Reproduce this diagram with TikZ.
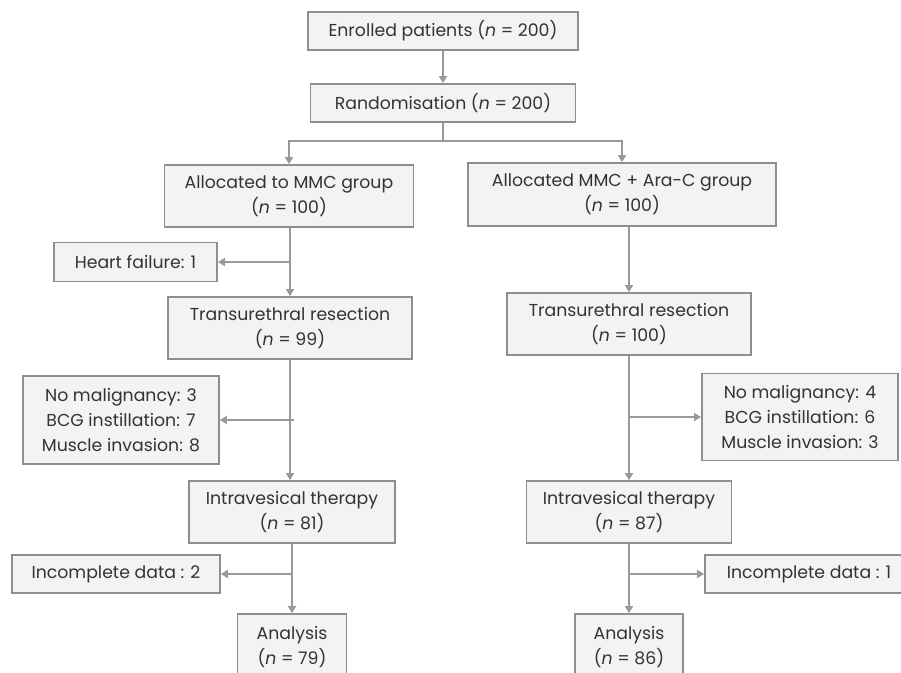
\documentclass[tikz,border=0pt]{standalone}
\usepackage{fontspec}
\setmainfont{Poppins}
\usetikzlibrary{arrows.meta,calc}
\definecolor{boxfill}{HTML}{F2F3F3}
\definecolor{boxline}{HTML}{8E8E8E}
\definecolor{lnk}{HTML}{999999}
\definecolor{txt}{HTML}{333333}
\tikzset{
  box/.style={draw=boxline, line width=1.8bp, fill=boxfill, inner sep=0pt,
    align=center, text=txt, font=\fontsize{17.3bp}{25bp}\selectfont},
  arr/.style={draw=lnk, line width=2bp, -{Triangle[length=7bp,width=8bp]}},
  ln/.style={draw=lnk, line width=2bp},
}
\begin{document}
\begin{tikzpicture}[x=1bp,y=-1bp]
\useasboundingbox (0,0) rectangle (901,673);
\clip (0,0) rectangle (901,673);
\node[box, minimum width=270bp, minimum height=38bp] (enr) at (443,31) {Enrolled patients (\textit{n} = 200)};
\node[box, minimum width=265bp, minimum height=38bp] (rand) at (443,103) {Randomisation (\textit{n} = 200)};
\node[box, minimum width=249bp, minimum height=62bp] (mmc) at (289,196) {Allocated to MMC group\\(\textit{n} = 100)};
\node[box, minimum width=308bp, minimum height=63bp] (ara) at (622,194.5) {Allocated MMC + Ara-C group\\(\textit{n} = 100)};
\node[box, minimum width=163bp, minimum height=39bp] (heart) at (135.5,262) {Heart failure: 1};
\node[box, minimum width=244bp, minimum height=62bp] (tur1) at (290,328) {Transurethral resection\\(\textit{n} = 99)};
\node[box, minimum width=244bp, minimum height=62bp] (tur2) at (629,324) {Transurethral resection\\(\textit{n} = 100)};
\node[box, minimum width=196bp, minimum height=88bp] (exc1) at (121,420) {No malignancy: 3\\BCG instillation: 7\\Muscle invasion: 8};
\node[box, minimum width=196bp, minimum height=87bp] (exc2) at (800,417) {No malignancy: 4\\BCG instillation: 6\\Muscle invasion: 3};
\node[box, minimum width=206bp, minimum height=62bp] (iv1) at (292,512) {Intravesical therapy\\(\textit{n} = 81)};
\node[box, minimum width=205bp, minimum height=62bp] (iv2) at (629,512) {Intravesical therapy\\(\textit{n} = 87)};
\node[box, minimum width=208bp, minimum height=38bp] (inc1) at (116,574) {Incomplete data : 2};
\node[box, minimum width=208bp, minimum height=38bp] (inc2) at (809,574) {Incomplete data : 1};
\node[box, minimum width=109bp, minimum height=66bp] (an1) at (292,647) {Analysis\\(\textit{n} = 79)};
\node[box, minimum width=108bp, minimum height=66bp] (an2) at (629,647) {Analysis\\(\textit{n} = 86)};
% connectors
\draw[arr] (enr) -- (rand);
\draw[ln] (rand.south) -- ++(0,18) coordinate (split);
\draw[arr] (split) -| (mmc.north);
\draw[arr] (split) -| (ara.north);
\draw[arr] (mmc.south -| tur1.north) -- (tur1.north);
\draw[arr] (heart.east -| tur1.north) -- (heart.east);
\draw[arr] (tur2.north |- ara.south) -- (tur2.north);
\draw[arr] (tur1.south) -- (tur1.south |- iv1.north);
\draw[arr] ($(exc1.east -| tur1.south)+(4,0)$) -- (exc1.east);
\draw[arr] (tur2.south) -- (iv2.north);
\draw[arr] (exc2.west -| tur2.south) -- (exc2.west);
\draw[arr] (iv1.south) -- (an1.north);
\draw[arr] (inc1.east -| iv1.south) -- (inc1.east);
\draw[arr] (iv2.south) -- (an2.north);
\draw[arr] (inc2.west -| iv2.south) -- (inc2.west);
\end{tikzpicture}
\end{document}
